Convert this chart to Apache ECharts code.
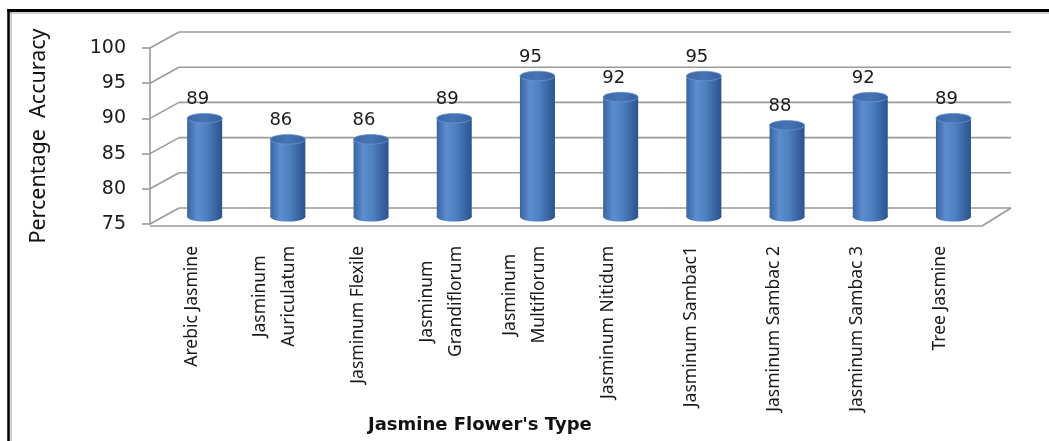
<!DOCTYPE html>
<html>
<head>
<meta charset="utf-8">
<title>Jasmine Flower's Type – Percentage Accuracy</title>
<script src="https://cdn.jsdelivr.net/npm/echarts@6/dist/echarts.min.js"></script>
<style>
  html, body { margin: 0; padding: 0; background: #fff; }
  #chart { width: 1049px; height: 441px; }
</style>
</head>
<body>
<div id="chart"></div>
<script>
// Flower types (line breaks follow the wrapped axis labels)
const categories = [
  'Arebic Jasmine',
  'Jasminum\nAuriculatum',
  'Jasminum Flexile',
  'Jasminum\nGrandiflorum',
  'Jasminum\nMultiflorum',
  'Jasminum Nitidum',
  'Jasminum Sambac1',
  'Jasminum Sambac 2',
  'Jasminum Sambac 3',
  'Tree Jasmine'
];
// Classification accuracy (%) per flower type
const accuracy = [89, 86, 86, 89, 95, 92, 95, 88, 92, 89];
// Value-axis ticks
const yTicks = [75, 80, 85, 90, 95, 100];

const Y_MIN = yTicks[0];
const Y_MAX = yTicks[yTicks.length - 1];
const Y_STEP = yTicks[1] - yTicks[0];

// Pseudo-3D depth: back wall offset and the depth at which the cylinders stand
const BACK_X = 29, BACK_Y = -16;
const MID = 0.45;
const BAR_W = 35, CAP_RY = 4.8;
const GRID_COLOR = '#9a9a9a';

function renderWalls(params, api) {
  const v = api.value(1);
  const cs = params.coordSys;
  const left = cs.x, right = cs.x + cs.width;
  const y = api.coord([0, v])[1];
  const style = { stroke: GRID_COLOR, lineWidth: 1.6, fill: null };
  const children = [
    // back wall gridline
    { type: 'line', shape: { x1: left + BACK_X, y1: y + BACK_Y, x2: right + BACK_X, y2: y + BACK_Y }, style },
    // side wall diagonal
    { type: 'line', shape: { x1: left, y1: y, x2: left + BACK_X, y2: y + BACK_Y }, style }
  ];
  if (v === Y_MIN) {
    // front and right edges of the floor
    children.push({ type: 'line', shape: { x1: right, y1: y + 2, x2: right + BACK_X, y2: y + BACK_Y }, style });
    children.push({ type: 'line', shape: { x1: left, y1: y + 2, x2: right, y2: y + 2 }, style });
  }
  return { type: 'group', children };
}

function bodyFill() {
  return new echarts.graphic.LinearGradient(0, 0, 1, 0, [
    { offset: 0, color: '#3a64a0' },
    { offset: 0.28, color: '#5b8dd0' },
    { offset: 0.55, color: '#4e7fc0' },
    { offset: 1, color: '#2b5290' }
  ]);
}

function renderCylinder(params, api) {
  const idx = api.value(0);
  const v = api.value(1);
  const top = api.coord([idx, v]);
  const base = api.coord([idx, Y_MIN]);
  const cx = top[0] + BACK_X * MID;
  const ty = top[1] + BACK_Y * MID;
  const by = base[1] + BACK_Y * MID;
  const rx = BAR_W / 2;
  return {
    type: 'group',
    children: [
      { type: 'ellipse', shape: { cx: cx, cy: by, rx: rx, ry: CAP_RY }, style: { fill: bodyFill() } },
      { type: 'rect', shape: { x: cx - rx, y: ty, width: BAR_W, height: by - ty }, style: { fill: bodyFill() } },
      {
        type: 'ellipse', shape: { cx: cx, cy: ty, rx: rx, ry: CAP_RY },
        style: {
          fill: new echarts.graphic.LinearGradient(0, 0, 1, 0, [
            { offset: 0, color: '#3d69a8' },
            { offset: 0.5, color: '#4674b4' },
            { offset: 1, color: '#3360a0' }
          ]),
          stroke: '#6a96d2', lineWidth: 0.8
        }
      },
      {
        type: 'text',
        style: {
          text: String(v), x: cx - 7, y: ty - 19,
          align: 'center', verticalAlign: 'middle',
          fontFamily: 'DejaVu Sans', fontSize: 18, fill: '#1a1a1a'
        }
      }
    ]
  };
}

const chart = echarts.init(document.getElementById('chart'), null, { renderer: 'canvas' });
chart.setOption({
  animation: false,
  backgroundColor: '#ffffff',
  title: {
    text: "Jasmine Flower's Type",
    left: 363, top: 411,
    textStyle: { fontFamily: 'DejaVu Sans', fontWeight: 'bold', fontSize: 18, color: '#111' }
  },
  grid: { left: 150, right: 67, top: 48, bottom: 217, containLabel: false },
  xAxis: {
    type: 'category',
    data: categories,
    axisLine: { show: false },
    axisTick: { show: false },
    axisLabel: {
      rotate: 90, interval: 0, margin: 22,
      // each wrapped line is centred within its label block
      formatter: (val) => val.split('\n').map(line => '{c|' + line + '}').join('\n'),
      rich: {
        c: { align: 'center', fontFamily: 'Noto Sans', fontSize: 17.5, lineHeight: 29, color: '#1a1a1a' }
      }
    }
  },
  yAxis: {
    type: 'value',
    min: Y_MIN, max: Y_MAX, interval: Y_STEP,
    name: 'Percentage  Accuracy',
    nameLocation: 'middle',
    nameGap: 100,
    nameRotate: 90,
    nameTextStyle: { fontFamily: 'Noto Sans', fontSize: 21.5, color: '#111' },
    axisLine: { show: true, lineStyle: { color: GRID_COLOR, width: 1.6 } },
    axisTick: { show: true, length: 8, lineStyle: { color: GRID_COLOR, width: 1.6 } },
    splitLine: { show: false },
    axisLabel: { margin: 24, fontFamily: 'DejaVu Sans', fontSize: 19, color: '#1a1a1a' }
  },
  graphic: [
    { type: 'line', shape: { x1: 7, y1: 10.5, x2: 1049, y2: 10.5 }, style: { stroke: '#000', lineWidth: 3 } },
    { type: 'line', shape: { x1: 8.5, y1: 10, x2: 8.5, y2: 441 }, style: { stroke: '#000', lineWidth: 2.5 } },
    { type: 'line', shape: { x1: 11, y1: 12, x2: 11, y2: 441 }, style: { stroke: '#a0a0a0', lineWidth: 1 } },
    { type: 'line', shape: { x1: 10, y1: 13, x2: 1049, y2: 13 }, style: { stroke: '#a0a0a0', lineWidth: 1 } }
  ],
  series: [
    {
      type: 'custom',
      name: 'walls',
      z: 1,
      silent: true,
      renderItem: renderWalls,
      data: yTicks.map(v => [0, v])
    },
    {
      type: 'custom',
      name: 'Percentage Accuracy',
      z: 3,
      renderItem: renderCylinder,
      data: accuracy.map((v, i) => [i, v])
    }
  ]
});
</script>
</body>
</html>
